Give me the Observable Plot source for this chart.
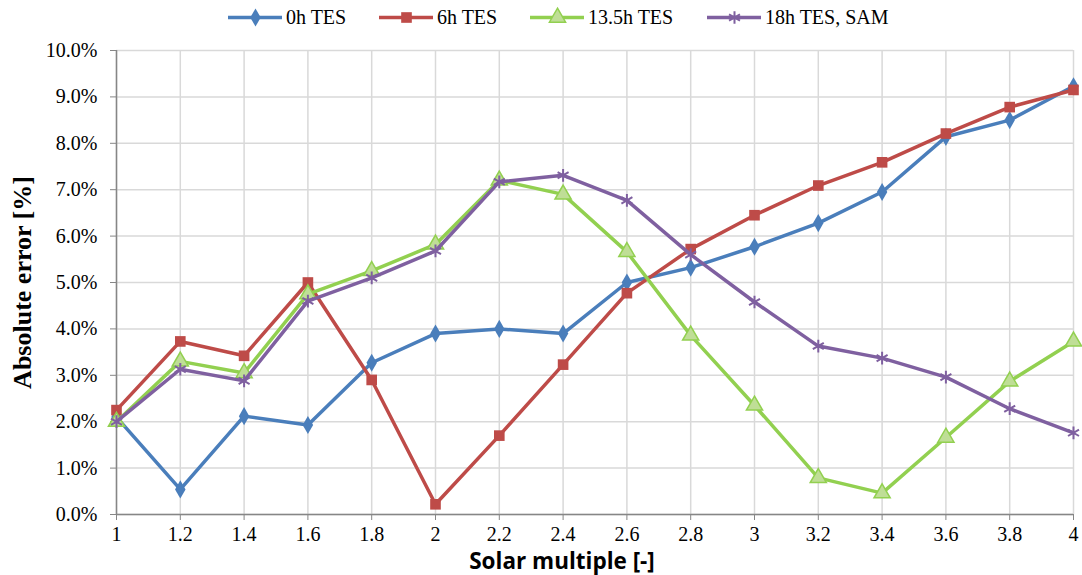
<!DOCTYPE html>
<html>
<head>
<meta charset="utf-8">
<script src="https://cdn.jsdelivr.net/npm/d3@7"></script>
<script src="https://cdn.jsdelivr.net/npm/@observablehq/plot@0.6"></script>
<style>
  body { margin: 0; background: #fff; }
  #legend { position: relative; width: 1082px; height: 32px; font-family: "Liberation Serif", serif; font-size: 20px; color: #000; }
  .item { position: absolute; top: 6px; display: flex; align-items: center; gap: 4px; line-height: 22px; }
  .item svg { display: block; }
  #chart svg { display: block; }
</style>
</head>
<body>
<div id="legend"></div>
<div id="chart"></div>
<script>
const solarMultiple = [1, 1.2, 1.4, 1.6, 1.8, 2, 2.2, 2.4, 2.6, 2.8, 3, 3.2, 3.4, 3.6, 3.8, 4];
const seriesNames = ["0h TES", "6h TES", "13.5h TES", "18h TES, SAM"];
const tes0h   = [2.10, 0.54, 2.12, 1.93, 3.27, 3.90, 4.00, 3.90, 5.00, 5.32, 5.77, 6.28, 6.95, 8.14, 8.50, 9.23];
const tes6h   = [2.25, 3.73, 3.42, 5.00, 2.90, 0.22, 1.70, 3.23, 4.77, 5.72, 6.45, 7.09, 7.59, 8.21, 8.78, 9.15];
const tes135h = [2.00, 3.30, 3.05, 4.75, 5.25, 5.82, 7.20, 6.90, 5.66, 3.86, 2.35, 0.79, 0.46, 1.66, 2.87, 3.73];
const tes18h  = [2.00, 3.13, 2.88, 4.60, 5.10, 5.68, 7.17, 7.31, 6.77, 5.60, 4.58, 3.63, 3.37, 2.96, 2.28, 1.76];
const xTicks = [1, 1.2, 1.4, 1.6, 1.8, 2, 2.2, 2.4, 2.6, 2.8, 3, 3.2, 3.4, 3.6, 3.8, 4];
const yTicks = [0, 1, 2, 3, 4, 5, 6, 7, 8, 9, 10];
const yTitle = "Absolute error [%]";
const xTitle = "Solar multiple [-]";

const lineColors = ["#4A7EBB", "#BE4B48", "#92D050", "#7F60A0"];
const fillColors = ["#4A7EBB", "#BE4B48", "#BFDE96", "#7F60A0"];
const symbols = ["diamond", "square", "triangle", "asterisk"];
const allSeries = [tes0h, tes6h, tes135h, tes18h];

const data = [];
seriesNames.forEach((name, i) => {
  allSeries[i].forEach((v, j) => data.push({series: name, x: solarMultiple[j], y: v}));
});

function dotOpts(i) {
  const isStroke = symbols[i] === "asterisk";
  return {
    r: i === 0 ? 5.5 : 6,
    fill: isStroke ? "none" : fillColors[i],
    stroke: lineColors[i],
    strokeWidth: isStroke ? 2 : (i === 2 ? 1.5 : 0)
  };
}

const marks = [
  Plot.gridX(xTicks, {stroke: "#d9d9d9", strokeOpacity: 1, strokeWidth: 1.5}),
  Plot.gridY(yTicks, {stroke: "#d9d9d9", strokeOpacity: 1, strokeWidth: 1.5}),
  Plot.axisY(yTicks, {tickFormat: d => d.toFixed(1) + "%", tickSize: 6, tickPadding: 13, stroke: "#868686", fontSize: 20, label: null}),
  Plot.axisX(xTicks, {tickFormat: d => String(d), tickSize: 6, tickPadding: 6, stroke: "#868686", fontSize: 20, label: null}),
  Plot.ruleX([1], {stroke: "#868686", strokeWidth: 1.5}),
  Plot.ruleY([0], {stroke: "#868686", strokeWidth: 1.5}),
];
seriesNames.forEach((name, i) => {
  const d = data.filter(r => r.series === name);
  marks.push(Plot.line(d, {x: "x", y: "y", stroke: lineColors[i], strokeWidth: 3.5}));
  marks.push(Plot.dot(d, {x: "x", y: "y", symbol: symbols[i], ...dotOpts(i)}));
});
marks.push(Plot.text([yTitle], {
  frameAnchor: "left", textAnchor: "middle", dx: -94, rotate: -90, fontSize: 26, fontWeight: "bold", fill: "#000"
}));
marks.push(Plot.text([xTitle], {
  frameAnchor: "bottom", dx: -33, dy: 54, fontWeight: "bold", fontSize: 22.5, fill: "#000"
}));

const chart = Plot.plot({
  width: 1082,
  height: 543,
  marginLeft: 116,
  marginRight: 9,
  marginTop: 18,
  marginBottom: 61,
  style: {fontFamily: "Liberation Serif", fontSize: "20px", color: "#000", background: "#fff", overflow: "visible"},
  x: {domain: [1, 4]},
  y: {domain: [0, 10]},
  symbol: {type: "identity"},
  marks
});
// force title fonts directly on the text elements
d3.select(chart).selectAll("text").each(function() {
  const t = this.textContent;
  if (t === yTitle) {
    this.style.fontFamily = "'Liberation Serif', 'Times New Roman', serif";
    this.style.fontWeight = "bold";
    this.setAttribute("text-anchor", "middle");
  } else if (t === xTitle) {
    this.style.fontFamily = "'Open Sans', sans-serif";
    this.style.fontWeight = "bold";
  }
});
document.getElementById("chart").appendChild(chart);

// legend
const legend = document.getElementById("legend");
const legendLeft = [228, 379, 530, 707];
seriesNames.forEach((name, i) => {
  const item = document.createElement("div");
  item.className = "item";
  item.style.left = legendLeft[i] + "px";
  const sw = Plot.plot({
    width: 54, height: 22, margin: 0,
    x: {domain: [0, 2], axis: null}, y: {domain: [0, 1], axis: null},
    symbol: {type: "identity"},
    marks: [
      Plot.line([{x: 0, y: 0.5}, {x: 2, y: 0.5}], {x: "x", y: "y", stroke: lineColors[i], strokeWidth: 3.5}),
      Plot.dot([{x: 1, y: 0.5}], {x: "x", y: "y", symbol: () => symbols[i], ...dotOpts(i)})
    ]
  });
  item.appendChild(sw);
  const t = document.createElement("span");
  t.textContent = name;
  item.appendChild(t);
  legend.appendChild(item);
});
</script>
</body>
</html>
